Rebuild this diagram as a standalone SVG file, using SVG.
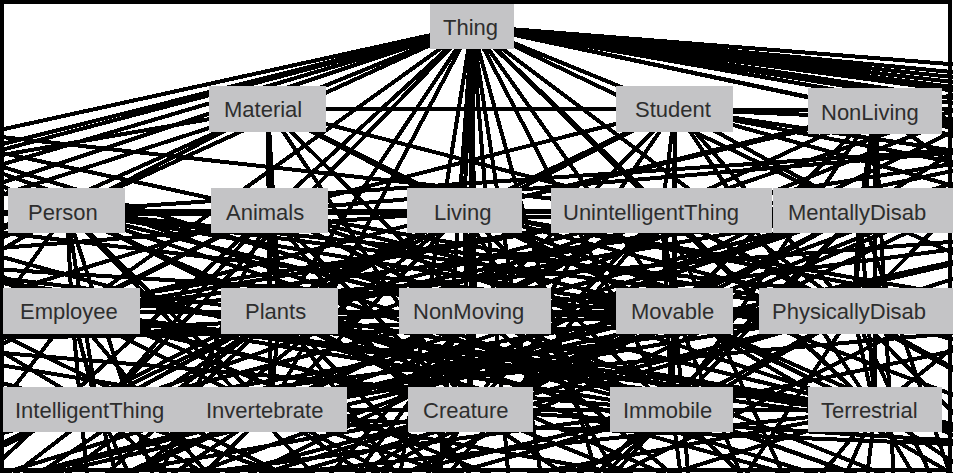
<svg xmlns="http://www.w3.org/2000/svg" width="953" height="473" viewBox="0 0 953 473">
<style>
.e line{stroke:#000;stroke-width:4;shape-rendering:crispEdges}
.n rect{fill:#c4c4c6}
.n text{font-family:"Liberation Sans",Arial,sans-serif;font-size:22px;fill:#2e2e2e}
</style>
<rect x="0" y="0" width="953" height="473" fill="#fff"/>
<g class="e" id="connectors">
<line x1="472" y1="26" x2="268" y2="109"/><line x1="472" y1="26" x2="675" y2="109"/><line x1="472" y1="26" x2="875" y2="111"/><line x1="472" y1="26" x2="67" y2="211"/><line x1="472" y1="26" x2="270" y2="211"/><line x1="472" y1="26" x2="464" y2="211"/><line x1="472" y1="26" x2="662" y2="211"/><line x1="472" y1="26" x2="860" y2="211"/><line x1="472" y1="26" x2="72" y2="312"/><line x1="472" y1="26" x2="280" y2="312"/><line x1="472" y1="26" x2="475" y2="312"/><line x1="472" y1="26" x2="675" y2="312"/><line x1="472" y1="26" x2="853" y2="312"/><line x1="472" y1="26" x2="98" y2="410"/><line x1="472" y1="26" x2="270" y2="410"/><line x1="472" y1="26" x2="470" y2="410"/><line x1="472" y1="26" x2="672" y2="410"/><line x1="472" y1="26" x2="875" y2="410"/>
<line x1="472" y1="26" x2="-200" y2="174"/><line x1="472" y1="26" x2="-200" y2="195"/><line x1="472" y1="26" x2="-200" y2="203"/><line x1="472" y1="26" x2="-200" y2="224"/><line x1="472" y1="26" x2="-200" y2="250"/>
<line x1="472" y1="26" x2="1150" y2="91"/><line x1="472" y1="26" x2="1150" y2="105"/><line x1="472" y1="26" x2="1150" y2="117"/><line x1="472" y1="26" x2="1150" y2="128"/><line x1="472" y1="26" x2="1150" y2="145"/><line x1="472" y1="26" x2="1150" y2="80"/><line x1="472" y1="26" x2="1150" y2="98"/><line x1="472" y1="26" x2="1150" y2="112"/><line x1="472" y1="26" x2="1150" y2="135"/><line x1="472" y1="26" x2="1150" y2="170"/>
<line x1="472" y1="26" x2="380" y2="600"/><line x1="472" y1="26" x2="430" y2="620"/><line x1="472" y1="26" x2="520" y2="620"/><line x1="472" y1="26" x2="560" y2="600"/><line x1="472" y1="26" x2="620" y2="560"/>
<line x1="268" y1="109" x2="675" y2="109"/><line x1="268" y1="109" x2="270" y2="211"/><line x1="268" y1="109" x2="464" y2="211"/><line x1="268" y1="109" x2="67" y2="211"/><line x1="268" y1="109" x2="280" y2="312"/><line x1="268" y1="109" x2="475" y2="312"/><line x1="268" y1="109" x2="662" y2="211"/><line x1="268" y1="109" x2="470" y2="410"/><line x1="268" y1="109" x2="270" y2="410"/><line x1="268" y1="109" x2="675" y2="312"/><line x1="268" y1="109" x2="-200" y2="190"/><line x1="268" y1="109" x2="-200" y2="260"/><line x1="268" y1="109" x2="-200" y2="320"/>
<line x1="675" y1="109" x2="875" y2="111"/><line x1="675" y1="109" x2="662" y2="211"/><line x1="675" y1="109" x2="675" y2="312"/><line x1="675" y1="109" x2="464" y2="211"/><line x1="675" y1="109" x2="860" y2="211"/><line x1="675" y1="109" x2="853" y2="312"/><line x1="675" y1="109" x2="672" y2="410"/><line x1="675" y1="109" x2="875" y2="410"/><line x1="675" y1="109" x2="475" y2="312"/><line x1="675" y1="109" x2="270" y2="211"/><line x1="675" y1="109" x2="470" y2="410"/><line x1="675" y1="109" x2="280" y2="312"/><line x1="675" y1="109" x2="1150" y2="200"/><line x1="675" y1="109" x2="1150" y2="130"/><line x1="675" y1="109" x2="1150" y2="180"/><line x1="675" y1="109" x2="1150" y2="240"/>
<line x1="875" y1="111" x2="860" y2="211"/><line x1="875" y1="111" x2="853" y2="312"/><line x1="875" y1="111" x2="875" y2="410"/><line x1="875" y1="111" x2="662" y2="211"/><line x1="875" y1="111" x2="675" y2="312"/><line x1="875" y1="111" x2="672" y2="410"/><line x1="875" y1="111" x2="464" y2="211"/><line x1="875" y1="111" x2="1150" y2="160"/><line x1="875" y1="111" x2="1150" y2="300"/><line x1="875" y1="111" x2="900" y2="600"/><line x1="875" y1="111" x2="1150" y2="140"/><line x1="875" y1="111" x2="1150" y2="200"/>
<line x1="67" y1="211" x2="270" y2="211"/><line x1="67" y1="211" x2="464" y2="211"/><line x1="67" y1="211" x2="662" y2="211"/><line x1="67" y1="211" x2="860" y2="211"/><line x1="67" y1="211" x2="72" y2="312"/><line x1="67" y1="211" x2="280" y2="312"/><line x1="67" y1="211" x2="475" y2="312"/><line x1="67" y1="211" x2="675" y2="312"/><line x1="67" y1="211" x2="853" y2="312"/><line x1="67" y1="211" x2="98" y2="410"/><line x1="67" y1="211" x2="270" y2="410"/><line x1="67" y1="211" x2="470" y2="410"/><line x1="67" y1="211" x2="672" y2="410"/><line x1="67" y1="211" x2="875" y2="410"/>
<line x1="270" y1="211" x2="464" y2="211"/><line x1="270" y1="211" x2="662" y2="211"/><line x1="270" y1="211" x2="860" y2="211"/><line x1="270" y1="211" x2="72" y2="312"/><line x1="270" y1="211" x2="280" y2="312"/><line x1="270" y1="211" x2="475" y2="312"/><line x1="270" y1="211" x2="675" y2="312"/><line x1="270" y1="211" x2="853" y2="312"/><line x1="270" y1="211" x2="98" y2="410"/><line x1="270" y1="211" x2="270" y2="410"/><line x1="270" y1="211" x2="470" y2="410"/><line x1="270" y1="211" x2="672" y2="410"/><line x1="270" y1="211" x2="875" y2="410"/>
<line x1="464" y1="211" x2="662" y2="211"/><line x1="464" y1="211" x2="860" y2="211"/><line x1="464" y1="211" x2="72" y2="312"/><line x1="464" y1="211" x2="280" y2="312"/><line x1="464" y1="211" x2="475" y2="312"/><line x1="464" y1="211" x2="675" y2="312"/><line x1="464" y1="211" x2="853" y2="312"/><line x1="464" y1="211" x2="98" y2="410"/><line x1="464" y1="211" x2="270" y2="410"/><line x1="464" y1="211" x2="470" y2="410"/><line x1="464" y1="211" x2="672" y2="410"/><line x1="464" y1="211" x2="875" y2="410"/>
<line x1="662" y1="211" x2="860" y2="211"/><line x1="662" y1="211" x2="72" y2="312"/><line x1="662" y1="211" x2="280" y2="312"/><line x1="662" y1="211" x2="475" y2="312"/><line x1="662" y1="211" x2="675" y2="312"/><line x1="662" y1="211" x2="853" y2="312"/><line x1="662" y1="211" x2="98" y2="410"/><line x1="662" y1="211" x2="270" y2="410"/><line x1="662" y1="211" x2="470" y2="410"/><line x1="662" y1="211" x2="672" y2="410"/><line x1="662" y1="211" x2="875" y2="410"/>
<line x1="860" y1="211" x2="72" y2="312"/><line x1="860" y1="211" x2="280" y2="312"/><line x1="860" y1="211" x2="475" y2="312"/><line x1="860" y1="211" x2="675" y2="312"/><line x1="860" y1="211" x2="853" y2="312"/><line x1="860" y1="211" x2="98" y2="410"/><line x1="860" y1="211" x2="270" y2="410"/><line x1="860" y1="211" x2="470" y2="410"/><line x1="860" y1="211" x2="672" y2="410"/><line x1="860" y1="211" x2="875" y2="410"/>
<line x1="72" y1="312" x2="280" y2="312"/><line x1="72" y1="312" x2="475" y2="312"/><line x1="72" y1="312" x2="675" y2="312"/><line x1="72" y1="312" x2="853" y2="312"/><line x1="72" y1="312" x2="98" y2="410"/><line x1="72" y1="312" x2="270" y2="410"/><line x1="72" y1="312" x2="470" y2="410"/><line x1="72" y1="312" x2="672" y2="410"/><line x1="72" y1="312" x2="875" y2="410"/>
<line x1="280" y1="312" x2="475" y2="312"/><line x1="280" y1="312" x2="675" y2="312"/><line x1="280" y1="312" x2="853" y2="312"/><line x1="280" y1="312" x2="98" y2="410"/><line x1="280" y1="312" x2="270" y2="410"/><line x1="280" y1="312" x2="470" y2="410"/><line x1="280" y1="312" x2="672" y2="410"/><line x1="280" y1="312" x2="875" y2="410"/>
<line x1="475" y1="312" x2="675" y2="312"/><line x1="475" y1="312" x2="853" y2="312"/><line x1="475" y1="312" x2="98" y2="410"/><line x1="475" y1="312" x2="270" y2="410"/><line x1="475" y1="312" x2="470" y2="410"/><line x1="475" y1="312" x2="672" y2="410"/><line x1="475" y1="312" x2="875" y2="410"/>
<line x1="675" y1="312" x2="853" y2="312"/><line x1="675" y1="312" x2="98" y2="410"/><line x1="675" y1="312" x2="270" y2="410"/><line x1="675" y1="312" x2="470" y2="410"/><line x1="675" y1="312" x2="672" y2="410"/><line x1="675" y1="312" x2="875" y2="410"/>
<line x1="853" y1="312" x2="98" y2="410"/><line x1="853" y1="312" x2="270" y2="410"/><line x1="853" y1="312" x2="470" y2="410"/><line x1="853" y1="312" x2="672" y2="410"/><line x1="853" y1="312" x2="875" y2="410"/>
<line x1="98" y1="410" x2="270" y2="410"/><line x1="98" y1="410" x2="470" y2="410"/><line x1="98" y1="410" x2="672" y2="410"/><line x1="98" y1="410" x2="875" y2="410"/>
<line x1="270" y1="410" x2="470" y2="410"/><line x1="270" y1="410" x2="672" y2="410"/><line x1="270" y1="410" x2="875" y2="410"/>
<line x1="470" y1="410" x2="672" y2="410"/><line x1="470" y1="410" x2="875" y2="410"/><line x1="672" y1="410" x2="875" y2="410"/>
<line x1="67" y1="211" x2="-150" y2="300"/><line x1="67" y1="211" x2="-150" y2="150"/><line x1="270" y1="211" x2="-150" y2="420"/><line x1="464" y1="211" x2="1100" y2="330"/><line x1="662" y1="211" x2="1100" y2="180"/><line x1="860" y1="211" x2="1100" y2="260"/>
<line x1="72" y1="312" x2="-150" y2="380"/><line x1="72" y1="312" x2="150" y2="600"/><line x1="280" y1="312" x2="-100" y2="600"/><line x1="280" y1="312" x2="500" y2="620"/><line x1="475" y1="312" x2="250" y2="620"/><line x1="675" y1="312" x2="1100" y2="500"/><line x1="675" y1="312" x2="800" y2="620"/><line x1="853" y1="312" x2="1100" y2="380"/><line x1="853" y1="312" x2="650" y2="620"/>
<line x1="98" y1="410" x2="-150" y2="470"/><line x1="98" y1="410" x2="300" y2="600"/><line x1="270" y1="410" x2="50" y2="620"/><line x1="270" y1="410" x2="620" y2="600"/><line x1="470" y1="410" x2="350" y2="620"/><line x1="470" y1="410" x2="750" y2="600"/><line x1="470" y1="410" x2="-100" y2="560"/><line x1="672" y1="410" x2="900" y2="620"/><line x1="672" y1="410" x2="500" y2="600"/><line x1="672" y1="410" x2="1100" y2="560"/><line x1="875" y1="410" x2="1000" y2="620"/><line x1="875" y1="410" x2="780" y2="620"/><line x1="875" y1="410" x2="700" y2="620"/>
<line x1="67" y1="211" x2="-150" y2="215"/><line x1="67" y1="211" x2="-150" y2="260"/><line x1="67" y1="211" x2="-150" y2="340"/><line x1="67" y1="211" x2="-150" y2="520"/><line x1="67" y1="211" x2="1100" y2="140"/><line x1="67" y1="211" x2="1100" y2="320"/><line x1="67" y1="211" x2="200" y2="620"/><line x1="67" y1="211" x2="450" y2="620"/>
<line x1="270" y1="211" x2="-150" y2="120"/><line x1="270" y1="211" x2="-150" y2="215"/><line x1="270" y1="211" x2="-150" y2="340"/><line x1="270" y1="211" x2="-150" y2="600"/><line x1="270" y1="211" x2="1100" y2="140"/><line x1="270" y1="211" x2="1100" y2="230"/><line x1="270" y1="211" x2="100" y2="620"/><line x1="270" y1="211" x2="580" y2="620"/>
<line x1="464" y1="211" x2="-150" y2="215"/><line x1="464" y1="211" x2="-150" y2="260"/><line x1="464" y1="211" x2="-150" y2="520"/><line x1="464" y1="211" x2="1100" y2="60"/><line x1="464" y1="211" x2="1100" y2="320"/><line x1="464" y1="211" x2="1100" y2="450"/><line x1="464" y1="211" x2="-50" y2="620"/><line x1="464" y1="211" x2="700" y2="620"/>
<line x1="662" y1="211" x2="-150" y2="120"/><line x1="662" y1="211" x2="-150" y2="340"/><line x1="662" y1="211" x2="1100" y2="60"/><line x1="662" y1="211" x2="1100" y2="140"/><line x1="662" y1="211" x2="1100" y2="230"/><line x1="662" y1="211" x2="1100" y2="450"/><line x1="662" y1="211" x2="330" y2="620"/><line x1="662" y1="211" x2="850" y2="620"/>
<line x1="860" y1="211" x2="-150" y2="215"/><line x1="860" y1="211" x2="-150" y2="520"/><line x1="860" y1="211" x2="1100" y2="60"/><line x1="860" y1="211" x2="1100" y2="140"/><line x1="860" y1="211" x2="1100" y2="230"/><line x1="860" y1="211" x2="1100" y2="320"/><line x1="860" y1="211" x2="450" y2="620"/><line x1="860" y1="211" x2="1000" y2="620"/>
<line x1="72" y1="312" x2="-150" y2="215"/><line x1="72" y1="312" x2="-150" y2="260"/><line x1="72" y1="312" x2="-150" y2="340"/><line x1="72" y1="312" x2="-150" y2="600"/><line x1="72" y1="312" x2="1100" y2="230"/><line x1="72" y1="312" x2="1100" y2="450"/><line x1="72" y1="312" x2="100" y2="620"/><line x1="72" y1="312" x2="330" y2="620"/>
<line x1="280" y1="312" x2="-150" y2="260"/><line x1="280" y1="312" x2="-150" y2="520"/><line x1="280" y1="312" x2="-150" y2="600"/><line x1="280" y1="312" x2="1100" y2="140"/><line x1="280" y1="312" x2="1100" y2="320"/><line x1="280" y1="312" x2="1100" y2="560"/><line x1="280" y1="312" x2="-50" y2="620"/><line x1="280" y1="312" x2="580" y2="620"/>
<line x1="475" y1="312" x2="-150" y2="120"/><line x1="475" y1="312" x2="-150" y2="340"/><line x1="475" y1="312" x2="-150" y2="600"/><line x1="475" y1="312" x2="1100" y2="60"/><line x1="475" y1="312" x2="1100" y2="230"/><line x1="475" y1="312" x2="1100" y2="560"/><line x1="475" y1="312" x2="200" y2="620"/><line x1="475" y1="312" x2="850" y2="620"/>
<line x1="675" y1="312" x2="-150" y2="215"/><line x1="675" y1="312" x2="-150" y2="260"/><line x1="675" y1="312" x2="-150" y2="520"/><line x1="675" y1="312" x2="1100" y2="140"/><line x1="675" y1="312" x2="1100" y2="320"/><line x1="675" y1="312" x2="1100" y2="560"/><line x1="675" y1="312" x2="100" y2="620"/><line x1="675" y1="312" x2="700" y2="620"/>
<line x1="853" y1="312" x2="-150" y2="340"/><line x1="853" y1="312" x2="-150" y2="600"/><line x1="853" y1="312" x2="1100" y2="60"/><line x1="853" y1="312" x2="1100" y2="230"/><line x1="853" y1="312" x2="1100" y2="450"/><line x1="853" y1="312" x2="1100" y2="560"/><line x1="853" y1="312" x2="330" y2="620"/><line x1="853" y1="312" x2="1000" y2="620"/>
<line x1="98" y1="410" x2="-150" y2="260"/><line x1="98" y1="410" x2="-150" y2="340"/><line x1="98" y1="410" x2="-150" y2="600"/><line x1="98" y1="410" x2="1100" y2="320"/><line x1="98" y1="410" x2="1100" y2="450"/><line x1="98" y1="410" x2="200" y2="620"/><line x1="98" y1="410" x2="450" y2="620"/><line x1="98" y1="410" x2="700" y2="620"/>
<line x1="270" y1="410" x2="-150" y2="340"/><line x1="270" y1="410" x2="-150" y2="520"/><line x1="270" y1="410" x2="-150" y2="600"/><line x1="270" y1="410" x2="1100" y2="230"/><line x1="270" y1="410" x2="1100" y2="560"/><line x1="270" y1="410" x2="-50" y2="620"/><line x1="270" y1="410" x2="580" y2="620"/><line x1="270" y1="410" x2="850" y2="620"/>
<line x1="470" y1="410" x2="-150" y2="260"/><line x1="470" y1="410" x2="-150" y2="520"/><line x1="470" y1="410" x2="-150" y2="600"/><line x1="470" y1="410" x2="1100" y2="140"/><line x1="470" y1="410" x2="1100" y2="450"/><line x1="470" y1="410" x2="100" y2="620"/><line x1="470" y1="410" x2="330" y2="620"/><line x1="470" y1="410" x2="1000" y2="620"/>
<line x1="672" y1="410" x2="-150" y2="340"/><line x1="672" y1="410" x2="-150" y2="520"/><line x1="672" y1="410" x2="-150" y2="600"/><line x1="672" y1="410" x2="1100" y2="320"/><line x1="672" y1="410" x2="1100" y2="560"/><line x1="672" y1="410" x2="-50" y2="620"/><line x1="672" y1="410" x2="450" y2="620"/><line x1="672" y1="410" x2="700" y2="620"/>
<line x1="875" y1="410" x2="-150" y2="260"/><line x1="875" y1="410" x2="-150" y2="520"/><line x1="875" y1="410" x2="-150" y2="600"/><line x1="875" y1="410" x2="1100" y2="230"/><line x1="875" y1="410" x2="1100" y2="450"/><line x1="875" y1="410" x2="1100" y2="560"/><line x1="875" y1="410" x2="200" y2="620"/><line x1="875" y1="410" x2="850" y2="620"/><line x1="875" y1="410" x2="1000" y2="620"/>
<line x1="-150" y1="260" x2="1100" y2="450"/><line x1="-150" y1="340" x2="1100" y2="320"/><line x1="-150" y1="215" x2="1100" y2="560"/><line x1="-150" y1="520" x2="1100" y2="230"/><line x1="-150" y1="600" x2="1100" y2="140"/><line x1="-150" y1="120" x2="1100" y2="560"/><line x1="-50" y1="620" x2="1100" y2="60"/><line x1="1000" y1="620" x2="-150" y2="120"/><line x1="100" y1="620" x2="1100" y2="140"/><line x1="850" y1="620" x2="-150" y2="215"/><line x1="330" y1="620" x2="1100" y2="230"/><line x1="580" y1="620" x2="-150" y2="260"/>
</g>
<rect x="2" y="2" width="948" height="468" fill="none" stroke="#000" stroke-width="4"/>
<g class="n" id="node-thing"><rect x="430" y="4" width="84" height="45"/><text x="443" y="35">Thing</text></g>
<g class="n" id="node-material"><rect x="209" y="86" width="117" height="46"/><text x="224" y="117">Material</text></g>
<g class="n" id="node-student"><rect x="616" y="86" width="117" height="46"/><text x="635" y="117">Student</text></g>
<g class="n" id="node-nonliving"><rect x="808" y="88" width="134" height="46"/><text x="821" y="120">NonLiving</text></g>
<g class="n" id="node-person"><rect x="8" y="188" width="117" height="45"/><text x="28" y="220">Person</text></g>
<g class="n" id="node-animals"><rect x="211" y="188" width="117" height="45"/><text x="226" y="220">Animals</text></g>
<g class="n" id="node-living"><rect x="407" y="188" width="115" height="45"/><text x="434" y="220">Living</text></g>
<g class="n" id="node-unintelligentthing"><rect x="551" y="188" width="221" height="45"/><text x="563" y="220">UnintelligentThing</text></g>
<g class="n" id="node-mentallydisab"><rect x="773" y="188" width="180" height="45"/><text x="788" y="220">MentallyDisab</text></g>
<g class="n" id="node-employee"><rect x="3" y="288" width="137" height="46"/><text x="20" y="319">Employee</text></g>
<g class="n" id="node-plants"><rect x="221" y="288" width="117" height="46"/><text x="245" y="319">Plants</text></g>
<g class="n" id="node-nonmoving"><rect x="399" y="288" width="152" height="46"/><text x="413" y="319">NonMoving</text></g>
<g class="n" id="node-movable"><rect x="616" y="288" width="117" height="46"/><text x="631" y="319">Movable</text></g>
<g class="n" id="node-physicallydisab"><rect x="759" y="288" width="194" height="46"/><text x="772" y="319">PhysicallyDisab</text></g>
<g class="n" id="node-intelligentthing"><rect x="3" y="387" width="190" height="45"/><text x="15" y="418">IntelligentThing</text></g>
<g class="n" id="node-invertebrate"><rect x="193" y="387" width="154" height="45"/><text x="206" y="418">Invertebrate</text></g>
<g class="n" id="node-creature"><rect x="408" y="387" width="125" height="45"/><text x="423" y="418">Creature</text></g>
<g class="n" id="node-immobile"><rect x="610" y="387" width="123" height="45"/><text x="623" y="418">Immobile</text></g>
<g class="n" id="node-terrestrial"><rect x="808" y="387" width="134" height="45"/><text x="821" y="418">Terrestrial</text></g>
</svg>
